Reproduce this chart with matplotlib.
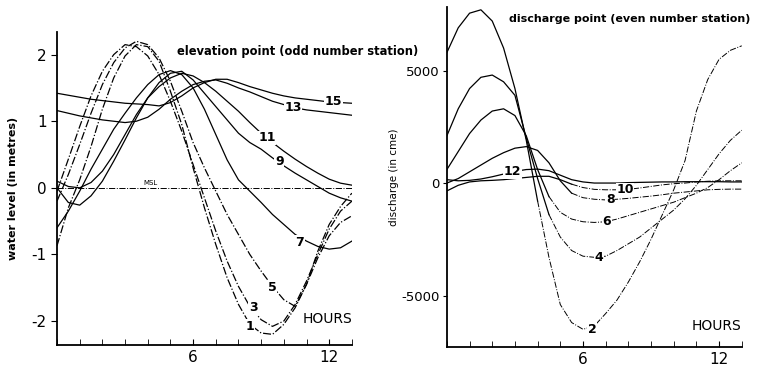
import numpy as np
import matplotlib
matplotlib.use("Agg")
import matplotlib.pyplot as plt

hours = [0, 0.5, 1, 1.5, 2, 2.5, 3, 3.5, 4, 4.5, 5, 5.5, 6, 6.5, 7, 7.5, 8, 8.5,
         9, 9.5, 10, 10.5, 11, 11.5, 12, 12.5, 13]

# water level (m) at odd stations
st1 = [-0.87, -0.3, 0.12, 0.62, 1.18, 1.65, 1.98, 2.15, 2.12, 1.9, 1.45, 0.95, 0.3, -0.3,
       -0.85, -1.35, -1.75, -2.05, -2.18, -2.2, -2.05, -1.8, -1.45, -1.05, -0.72, -0.52, -0.42]
st3 = [-0.05, 0.43, 0.92, 1.38, 1.75, 2.0, 2.15, 2.12, 1.98, 1.7, 1.3, 0.85, 0.35, -0.15,
       -0.65, -1.1, -1.48, -1.78, -1.98, -2.08, -2.0, -1.75, -1.4, -1.0, -0.62, -0.35, -0.2]
st5 = [-0.2, 0.2, 0.65, 1.12, 1.55, 1.88, 2.1, 2.2, 2.15, 1.95, 1.6, 1.15, 0.68, 0.3,
       -0.05, -0.4, -0.7, -1.0, -1.25, -1.48, -1.68, -1.78, -1.45, -0.95, -0.55, -0.28, -0.08]
st7 = [-0.6, -0.35, -0.05, 0.28, 0.58, 0.88, 1.12, 1.35, 1.55, 1.7, 1.76, 1.7, 1.5, 1.18,
       0.8, 0.42, 0.12, -0.05, -0.22, -0.4, -0.55, -0.7, -0.8, -0.88, -0.92, -0.9, -0.8]
st9 = [0.0, -0.22, -0.26, -0.12, 0.1, 0.4, 0.72, 1.05, 1.35, 1.58, 1.72, 1.75, 1.62, 1.42,
       1.22, 1.02, 0.82, 0.68, 0.58, 0.45, 0.33, 0.22, 0.12, 0.02, -0.08, -0.15, -0.2]
st11 = [0.1, 0.02, 0.0, 0.08, 0.25, 0.5, 0.8, 1.1, 1.35, 1.52, 1.65, 1.72, 1.68, 1.58,
        1.45, 1.3, 1.15, 0.98, 0.82, 0.68, 0.55, 0.43, 0.32, 0.22, 0.13, 0.07, 0.04]
st13 = [1.16, 1.12, 1.08, 1.05, 1.02, 1.0, 0.98, 1.0, 1.06, 1.18, 1.33, 1.45, 1.55, 1.6,
        1.62, 1.57, 1.5, 1.44, 1.37, 1.3, 1.25, 1.2, 1.17, 1.15, 1.13, 1.11, 1.09]
st15 = [1.42, 1.39, 1.36, 1.33, 1.31, 1.29, 1.27, 1.26, 1.25, 1.23, 1.28, 1.38, 1.5, 1.58,
        1.63, 1.63, 1.58, 1.52, 1.47, 1.42, 1.38, 1.35, 1.33, 1.31, 1.29, 1.28, 1.27]

# discharge (cme) at even stations
st2 = [5800, 6900, 7550, 7700, 7200, 6000, 4200, 1900, -800, -3300, -5400, -6200, -6500, -6350,
       -5800, -5200, -4400, -3500, -2500, -1400, -300, 1000, 3200, 4600, 5500, 5900, 6100]
st4 = [2100, 3300, 4200, 4700, 4800, 4500, 3900, 2000, 200, -1400, -2400, -3000, -3250, -3300,
       -3250, -3000, -2700, -2400, -2000, -1600, -1200, -700, -100, 600, 1300, 1900, 2350]
st6 = [600, 1400, 2200, 2800, 3200, 3300, 3000, 2100, 600, -600, -1300, -1600, -1720, -1750,
       -1720, -1600, -1450, -1300, -1150, -1000, -850, -650, -450, -200, 150, 550, 900]
st8 = [0, 200, 500, 800, 1100, 1350, 1550, 1620, 1450, 900, 100, -450, -650, -720,
       -750, -720, -680, -630, -580, -520, -450, -400, -350, -300, -280, -270, -270]
st10 = [-350, -100, 50, 100, 120, 150, 200, 250, 300, 300, 150, -50, -200, -280,
        -300, -300, -280, -220, -150, -80, -30, 0, 50, 80, 100, 100, 100]
st12 = [150, 100, 120, 180, 280, 400, 520, 600, 620, 550, 350, 150, 50, 0,
        0, 0, 20, 30, 40, 50, 50, 60, 60, 60, 60, 50, 50]

odd_names = ["1", "3", "5", "7", "9", "11", "13", "15"]
odd_series = [st1, st3, st5, st7, st9, st11, st13, st15]
odd_styles = ["-.", "-.", "-.", "-", "-", "-", "-", "-"]
odd_label_pos = [(8.5, -2.08), (8.65, -1.8), (9.5, -1.5), (10.7, -0.82),
                 (9.8, 0.4), (9.25, 0.75), (10.4, 1.2), (12.2, 1.3)]

even_names = ["2", "4", "6", "8", "10", "12"]
even_series = [st2, st4, st6, st8, st10, st12]
even_label_pos = [(6.4, -6500), (6.7, -3300), (7.05, -1730), (7.2, -750),
                  (7.85, -300), (2.9, 500)]

plt.rcParams['font.family'] = ['DejaVu Sans']
fig = plt.figure(figsize=(7.6, 3.74), dpi=100)

# ---------------- left panel ----------------
ax1 = fig.add_axes([0.075, 0.0775, 0.388, 0.837])
for vals, ls in zip(odd_series, odd_styles):
    ax1.plot(hours, vals, color='black', lw=0.9, ls=ls)
ax1.axhline(0, color='black', lw=0.7, ls='-.')
ax1.text(4.1, 0.03, "MSL", fontsize=5, ha='center', va='bottom')
for name, (hx, hy) in zip(odd_names, odd_label_pos):
    ax1.text(hx, hy, name, fontsize=9, fontweight='bold', ha='center', va='center',
             bbox=dict(boxstyle='square,pad=0.05', fc='white', ec='none'))
ax1.set_xlim(0, 13)
ax1.set_ylim(-2.36, 2.34)
ax1.set_yticks([-2, -1, 0, 1, 2])
ax1.set_yticklabels(["-2", "-1", "0", "1", "2"])
ax1.set_xticks([6, 12])
ax1.set_xticks(range(0, 14), minor=True)
ax1.tick_params(axis='x', which='both', direction='in', length=4, labelsize=11)
ax1.tick_params(axis='y', direction='out', length=4, labelsize=11)
ax1.set_ylabel("water level (in metres)", fontsize=8, fontweight='bold', labelpad=10)
ax1.text(13, -2.08, "HOURS", fontsize=10, ha='right', va='bottom')
ax1.text(5.3, 2.05, "elevation point (odd number station)", fontsize=8.3,
         fontweight='bold', ha='left', va='center')
for s in ['top', 'right']:
    ax1.spines[s].set_visible(False)
ax1.spines['left'].set_linewidth(1.3)
ax1.spines['bottom'].set_linewidth(1.3)

# ---------------- right panel ----------------
ax2 = fig.add_axes([0.588, 0.072, 0.388, 0.909])
for vals in even_series:
    idx = next((i for i, v in enumerate(vals) if v < 0 and i > 3), len(vals) - 1)
    ax2.plot(hours[:idx + 1], vals[:idx + 1], color='black', lw=0.9, ls='-')
    ax2.plot(hours[idx:], vals[idx:], color='black', lw=0.7, ls='-.')
for name, (hx, hy) in zip(even_names, even_label_pos):
    ax2.text(hx, hy, name, fontsize=9, fontweight='bold', ha='center', va='center',
             bbox=dict(boxstyle='square,pad=0.05', fc='white', ec='none'))
ax2.set_xlim(0, 13)
ax2.set_ylim(-7290, 7820)
ax2.set_yticks([-5000, 0, 5000])
ax2.set_yticklabels(["-5000", "0", "5000"])
ax2.set_xticks([6, 12])
ax2.set_xticks(range(0, 14), minor=True)
ax2.tick_params(axis='x', which='both', direction='in', length=4, labelsize=11)
ax2.tick_params(axis='y', direction='out', length=3, labelsize=9.5, pad=2)
ax2.set_ylabel("discharge (in cme)", fontsize=7.5, labelpad=2)
ax2.text(13, -6650, "HOURS", fontsize=10, ha='right', va='bottom')
ax2.text(2.75, 7300, "discharge point (even number station)", fontsize=8,
         fontweight='bold', ha='left', va='center')
for s in ['top', 'right']:
    ax2.spines[s].set_visible(False)
ax2.spines['left'].set_linewidth(1.3)
ax2.spines['bottom'].set_linewidth(1.3)

fig.savefig("out.png", dpi=100)
